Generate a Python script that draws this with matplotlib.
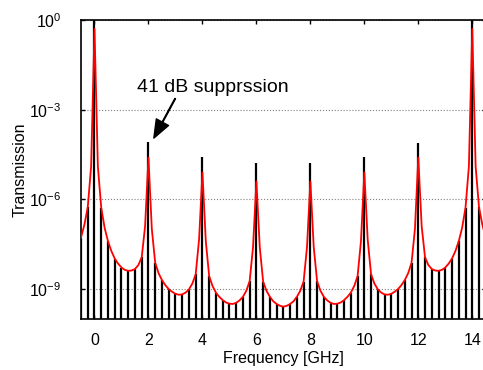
import numpy as np
import matplotlib
matplotlib.use("Agg")
import matplotlib.pyplot as plt

plt.rcParams['font.family'] = ['Liberation Sans', 'DejaVu Sans']
plt.rcParams['mathtext.default'] = 'regular'

# red curve: frequency (GHz) and log10 of transmission
freq = np.arange(-0.5, 14.5001, 0.125)
log_t = [
    -7.28, -6.85, -6.27, -4.9, -0.3,   -4.9,  -6.28, -6.95,    # -0.5 .. 0.375
    -7.40, -7.73, -7.98, -8.15, -8.28, -8.36, -8.39, -8.38,    # 0.5 .. 1.375
    -8.33, -8.20, -7.94, -6.90, -4.60, -7.00, -8.12, -8.47,    # 1.5 .. 2.375
    -8.70, -8.87, -9.00, -9.09, -9.16, -9.19, -9.18, -9.12,    # 2.5 .. 3.375
    -9.01, -8.82, -8.51, -7.35, -5.10, -7.40, -8.57, -8.90,    # 3.5 .. 4.375
    -9.12, -9.26, -9.37, -9.45, -9.49, -9.50, -9.46, -9.38,    # 4.5 .. 5.375
    -9.26, -9.06, -8.74, -7.60, -5.40, -7.60, -8.75, -9.06,    # 5.5 .. 6.375
    -9.26, -9.41, -9.50, -9.56, -9.59, -9.56, -9.50, -9.41,    # 6.5 .. 7.375
    -9.26, -9.06, -8.75, -7.60, -5.40, -7.60, -8.74, -9.06,    # 7.5 .. 8.375
    -9.26, -9.38, -9.46, -9.50, -9.49, -9.45, -9.37, -9.26,    # 8.5 .. 9.375
    -9.12, -8.90, -8.57, -7.40, -5.10, -7.35, -8.51, -8.82,    # 9.5 .. 10.375
    -9.01, -9.12, -9.18, -9.19, -9.16, -9.09, -9.00, -8.87,    # 10.5 .. 11.375
    -8.70, -8.47, -8.12, -7.00, -4.60, -6.90, -7.94, -8.20,    # 11.5 .. 12.375
    -8.33, -8.38, -8.39, -8.36, -8.28, -8.15, -7.98, -7.73,    # 12.5 .. 13.375
    -7.40, -6.95, -6.28, -4.9, -0.3,   -4.9,  -6.27, -6.85,    # 13.5 .. 14.375
    -7.28,                                                     # 14.5
]

# black lines every 0.25 GHz, log10 of their heights
f_stem = np.arange(-0.5, 14.5001, 0.25)
log_stem = [
    -7.28, -6.27,  0.0,  -6.28, -7.40, -7.98, -8.28, -8.39,    # -0.5 .. 1.25
    -8.33, -7.94, -4.09, -8.12, -8.70, -9.00, -9.16, -9.18,    # 1.5 .. 3.25
    -9.01, -8.51, -4.59, -8.57, -9.12, -9.37, -9.49, -9.46,    # 3.5 .. 5.25
    -9.26, -8.74, -4.80, -8.75, -9.26, -9.50, -9.59, -9.50,    # 5.5 .. 7.25
    -9.26, -8.75, -4.80, -8.74, -9.26, -9.46, -9.49, -9.37,    # 7.5 .. 9.25
    -9.12, -8.57, -4.59, -8.51, -9.01, -9.18, -9.16, -9.00,    # 9.5 .. 11.25
    -8.70, -8.12, -4.11, -7.94, -8.33, -8.39, -8.28, -7.98,    # 11.5 .. 13.25
    -7.40, -6.28,  0.0,  -6.27, -7.28,                         # 13.5 .. 14.5
]

trans = 10.0 ** np.array(log_t)
t_stem = 10.0 ** np.array(log_stem)

yticks = [1e0, 1e-3, 1e-6, 1e-9]
xticks = [0, 2, 4, 6, 8, 10, 12, 14]

fig = plt.figure(figsize=(4.83, 3.70), dpi=100)
ax = fig.add_axes([0.1677, 0.138, 0.838, 0.808])

ax.vlines(f_stem, 1e-10, t_stem, color='black', lw=1.6, zorder=2)
ax.plot(freq, trans, color='red', lw=1.3, zorder=3)

ax.set_yscale('log')
ax.set_xlim(-0.5, 14.5)
ax.set_ylim(1e-10, 1)
ax.set_xticks(xticks)
ax.set_yticks(yticks)
ax.minorticks_off()
ax.yaxis.grid(True, ls=':', color='gray', lw=0.8)
ax.set_axisbelow(True)
ax.tick_params(direction='in', top=True, right=True, labelsize=11.5, length=3, width=1)
ax.tick_params(axis='y', pad=14)
ax.tick_params(axis='x', pad=10)
for s in ax.spines.values():
    s.set_linewidth(1.2)

ax.set_xlabel('Frequency [GHz]', fontsize=11.5, labelpad=2)
ax.set_ylabel('Transmission', fontsize=11.5, labelpad=1)

ax.text(4.39, 10 ** -2.27, '41 dB supprssion', fontsize=14, ha='center', va='center')
ax.annotate('', xy=(2.2, 10 ** -3.95), xytext=(2.99, 10 ** -2.63),
            arrowprops=dict(facecolor='black', edgecolor='black', width=0.5,
                            headwidth=10, headlength=13, shrink=0))

fig.savefig('out.png', dpi=100)
